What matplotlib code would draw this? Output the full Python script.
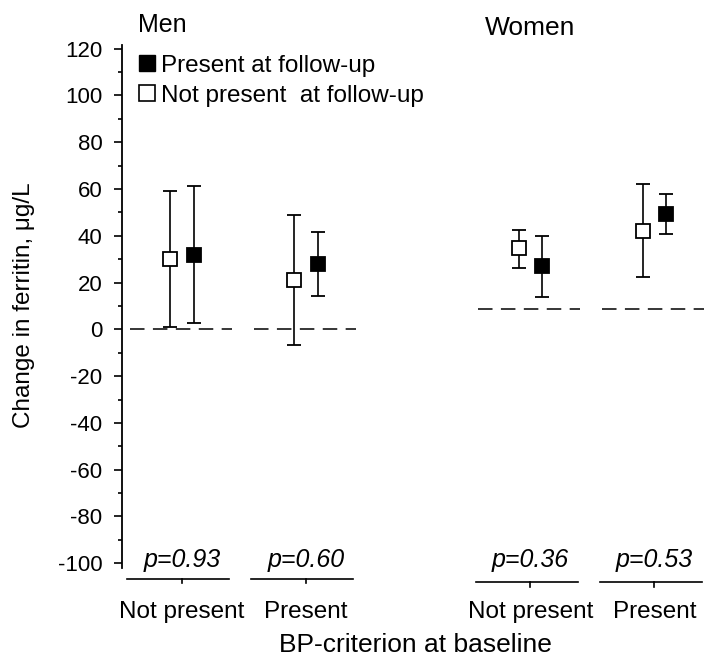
import matplotlib
matplotlib.use("Agg")
import matplotlib.pyplot as plt
from matplotlib.lines import Line2D

plt.rcParams['font.family'] = ['Liberation Sans', 'DejaVu Sans']
plt.rcParams['axes.unicode_minus'] = False

# groupes: hommes / femmes, critère BP au départ
groupes = ['Not present', 'Present', 'Not present', 'Present']
sexe = ['Men', 'Men', 'Women', 'Women']
positions = [0, 1, 2.81, 3.81]

# "Not present at follow-up" (carré vide)
np_moy = [30, 21, 34.6, 42]
np_bas = [1, -6.8, 26.4, 22.4]
np_haut = [59, 49, 42.4, 62]

# "Present at follow-up" (carré plein)
p_moy = [31.7, 28, 27, 49.3]
p_bas = [2.7, 14.3, 13.9, 40.7]
p_haut = [61.2, 41.7, 40, 57.9]

# lignes de référence et valeurs p
reference = [0, 0, 8.6, 8.6]
p_valeurs = ['p=0.93', 'p=0.60', 'p=0.36', 'p=0.53']
base_ligne = [-106.5, -106.5, -108, -108]

fig = plt.figure(figsize=(7.08, 6.57), dpi=100)
ax = fig.add_axes([0.1723, 0.1355, 0.8277, 0.796])

dec = 0.093
for i, x in enumerate(positions):
    # ligne pointillée de référence
    ax.plot([x - 0.42, x + 0.4], [reference[i]] * 2, color='black', lw=1.1,
            dashes=(9.5, 5.5), zorder=1)
    # carré vide
    ax.errorbar(x - dec, np_moy[i],
                yerr=[[np_moy[i] - np_bas[i]], [np_haut[i] - np_moy[i]]],
                fmt='s', ms=10.5, mfc='white', mec='black', mew=1.3,
                ecolor='black', elinewidth=1.2, capsize=5, capthick=1.2, zorder=3)
    # carré plein
    ax.errorbar(x + dec, p_moy[i],
                yerr=[[p_moy[i] - p_bas[i]], [p_haut[i] - p_moy[i]]],
                fmt='s', ms=10.5, mfc='black', mec='black', mew=1.3,
                ecolor='black', elinewidth=1.2, capsize=5, capthick=1.2, zorder=3)
    # segment d'axe sous chaque groupe avec petite graduation
    ax.plot([x - 0.44, x + 0.38], [base_ligne[i]] * 2, color='black', lw=1.2,
            clip_on=False)
    ax.plot([x, x], [base_ligne[i], base_ligne[i] - 2], color='black', lw=1.2,
            clip_on=False)
    ax.text(x, -101.6, p_valeurs[i], ha='center', va='baseline', fontsize=18,
            style='italic')

ax.set_xlim(-0.484, 4.242)
ax.set_ylim(-102, 121.5)
ax.set_yticks(range(-100, 121, 20))
ax.set_yticks(range(-90, 121, 20), minor=True)
ax.tick_params(axis='y', which='major', length=6, width=1.2, labelsize=16, pad=8)
ax.tick_params(axis='y', which='minor', length=3, width=1.2)

ax.set_xticks(positions)
ax.set_xticklabels(groupes, fontsize=17.5)
ax.tick_params(axis='x', length=0, pad=23.5)

for s in ['top', 'right', 'bottom']:
    ax.spines[s].set_visible(False)
ax.spines['left'].set_linewidth(1.3)

ax.set_xlabel('BP-criterion at baseline', fontsize=19)
ax.xaxis.set_label_coords(0.5, -0.124)
ax.set_ylabel('Change in ferritin, \u03bcg/L', fontsize=17.5)
ax.yaxis.set_label_coords(-0.148, 0.503)

ax.text(0.027, 1.025, 'Men', transform=ax.transAxes, fontsize=18,
        ha='left', va='baseline')
ax.text(2.81, 1.019, 'Women', transform=ax.get_xaxis_transform(), fontsize=19,
        ha='center', va='baseline')

legende = [
    Line2D([], [], ls='none', marker='s', ms=11, mfc='black', mec='black',
           label='Present at follow-up'),
    Line2D([], [], ls='none', marker='s', ms=11, mfc='white', mec='black', mew=1.2,
           label='Not present  at follow-up'),
]
ax.legend(handles=legende, loc='upper left', bbox_to_anchor=(0.001, 1.009),
          frameon=False, fontsize=17.5, handlelength=0.8, handletextpad=0.2,
          labelspacing=0.32, borderaxespad=0.2)

fig.savefig('out.png', dpi=100)
